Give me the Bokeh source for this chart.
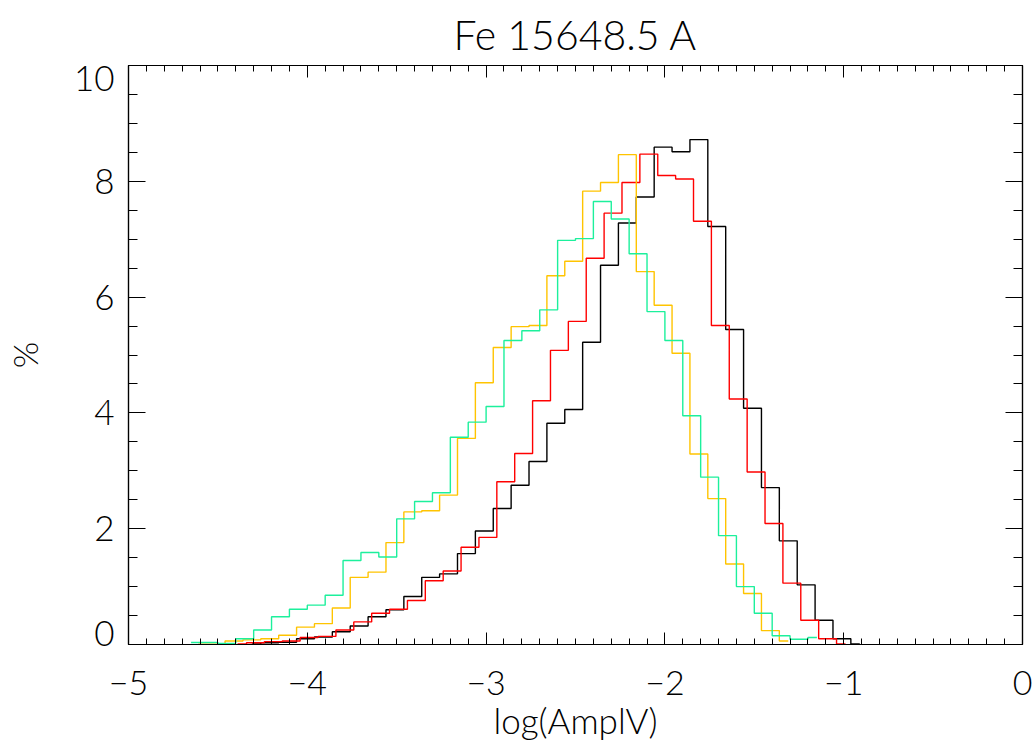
import numpy as np
from bokeh.plotting import figure
from bokeh.models import Range1d, LinearAxis, FixedTicker, ColumnDataSource
from bokeh.embed import file_html
from bokeh.resources import INLINE

# ---------------- data ----------------
title_text = "Fe 15648.5 A"
x_label = "log(AmplV)"
y_label = "%"
x_ticks = [-5, -4, -3, -2, -1, 0]
x_tick_labels = ["\u22125", "\u22124", "\u22123", "\u22122", "\u22121", "0"]
y_ticks = [0, 2, 4, 6, 8, 10]
y_tick_labels = ["0", "2", "4", "6", "8", "10"]

bin_width = 0.1

# green histogram (first bin centre and values, %)
green_start = -4.65
green_vals = [0.035, 0.035, 0.02, 0.10, 0.25, 0.48, 0.61, 0.68, 0.85, 1.45,
              1.59, 1.51, 2.17, 2.47, 2.62, 3.58, 3.84, 4.11, 5.25, 5.42,
              5.78, 6.98, 7.01, 7.65, 7.35, 6.75, 5.75, 5.25, 3.95, 2.89,
              1.88, 1.00, 0.54, 0.15, 0.09, 0.12]

# yellow histogram
yellow_start = -4.61
yellow_vals = [0.005, 0.005, 0.06, 0.08, 0.10, 0.16, 0.30, 0.36, 0.63, 1.16,
               1.25, 1.76, 2.29, 2.31, 2.58, 3.56, 4.52, 5.13, 5.49, 5.51,
               6.37, 6.62, 7.83, 7.98, 8.46, 6.44, 5.86, 5.03, 3.29, 2.52,
               1.39, 0.88, 0.24, 0.06]

# red histogram
red_start = -4.39
red_vals = [0.01, 0.03, 0.05, 0.06, 0.12, 0.14, 0.25, 0.39, 0.54, 0.61,
            0.76, 1.10, 1.27, 1.68, 1.85, 2.81, 3.30, 4.21, 5.08, 5.58,
            6.67, 7.45, 7.98, 8.47, 8.10, 8.04, 7.31, 5.51, 4.24, 2.98,
            2.09, 1.06, 0.42, 0.10, 0.01]

# black histogram
black_start = -4.31
black_vals = [0.01, 0.03, 0.04, 0.10, 0.13, 0.22, 0.32, 0.48, 0.60, 0.83,
              1.16, 1.22, 1.57, 1.96, 2.35, 2.75, 3.16, 3.82, 4.06, 5.22,
              6.55, 7.28, 7.73, 8.59, 8.51, 8.72, 7.22, 5.44, 4.08, 2.71,
              1.79, 1.03, 0.42, 0.10, 0.01]

series = [
    (black_start, black_vals, "#000000"),
    (red_start, red_vals, "#FF0000"),
    (yellow_start, yellow_vals, "#FFC400"),
    (green_start, green_vals, "#1CF09C"),
]

FONT = "Lato Light"
FRAME_W, FRAME_H = 894, 579
Y0, Y1 = 0, 10

# ---------------- figure ----------------
p = figure(frame_width=FRAME_W, frame_height=FRAME_H,
           x_range=Range1d(-5, 0), y_range=Range1d(Y0, Y1),
           x_axis_location=None, y_axis_location=None,
           output_backend="svg", toolbar_location=None,
           min_border_left=126, min_border_right=12,
           min_border_top=64, min_border_bottom=110)
p.xgrid.visible = False
p.ygrid.visible = False
p.outline_line_color = "black"
p.outline_line_width = 1.2
p.background_fill_color = "white"
p.border_fill_color = "white"

p.title.text = title_text
p.title.align = "center"
p.title.text_font = FONT
p.title.text_font_size = "41px"
p.title.text_font_style = "normal"
p.title.text_color = "black"
p.title.standoff = 14

x_minor = [round(v, 2) for v in np.arange(-5, 0.001, 0.1)]
y_minor = [round(v, 2) for v in np.arange(0, 10.001, 0.5)]


def tick_axis(ticks, minor, major_in, minor_in):
    ax = LinearAxis(ticker=FixedTicker(ticks=ticks, minor_ticks=minor))
    ax.major_tick_in = major_in
    ax.major_tick_out = 0
    ax.minor_tick_in = minor_in
    ax.minor_tick_out = 0
    ax.major_tick_line_color = "black"
    ax.minor_tick_line_color = "black"
    ax.major_tick_line_width = 1
    ax.minor_tick_line_width = 1
    ax.axis_line_color = "black"
    ax.axis_line_width = 1.2
    ax.major_label_overrides = {t: "" for t in ticks}
    ax.major_label_text_font_size = "0px"
    ax.major_label_standoff = 0
    return ax


# bottom axis: ticks + labels + title
bottom = tick_axis(x_ticks, x_minor, 12, 6)
bottom.major_label_overrides = dict(zip(x_ticks, x_tick_labels))
bottom.major_label_text_font = FONT
bottom.major_label_text_font_size = "34px"
bottom.major_label_text_color = "black"
bottom.major_label_standoff = 26
bottom.axis_label = x_label
bottom.axis_label_text_font = FONT
bottom.axis_label_text_font_style = "normal"
bottom.axis_label_text_font_size = "35px"
bottom.axis_label_text_color = "black"
bottom.axis_label_standoff = 1
p.add_layout(bottom, "below")

p.add_layout(tick_axis(x_ticks, x_minor, 12, 6), "above")
p.add_layout(tick_axis(y_ticks, y_minor, 17, 9), "left")
p.add_layout(tick_axis(y_ticks, y_minor, 17, 9), "right")

# left label axis: the end labels sit inside the frame height as in the original
px_per_unit = FRAME_H / (Y1 - Y0)
label_shift_px = {Y1: -13, Y0: 11}
label_pos = [round(t + label_shift_px.get(t, 0) / px_per_unit, 4) for t in y_ticks]
lab = LinearAxis(ticker=FixedTicker(ticks=label_pos, minor_ticks=[]))
lab.major_label_overrides = dict(zip(label_pos, y_tick_labels))
lab.major_tick_in = 0
lab.major_tick_out = 0
lab.minor_tick_in = 0
lab.minor_tick_out = 0
lab.axis_line_color = None
lab.major_tick_line_color = None
lab.minor_tick_line_color = None
lab.major_label_text_font = FONT
lab.major_label_text_font_size = "35px"
lab.major_label_text_color = "black"
lab.major_label_standoff = 14
lab.axis_label = y_label
lab.axis_label_text_font = FONT
lab.axis_label_text_font_style = "normal"
lab.axis_label_text_font_size = "34px"
lab.axis_label_text_color = "black"
lab.axis_label_standoff = 26
p.add_layout(lab, "left")

for start, vals, color in series:
    xs = np.round(start + bin_width * np.arange(len(vals)), 3)
    src = ColumnDataSource(dict(x=xs, y=vals))
    p.step("x", "y", source=src, mode="center", line_color=color, line_width=1.4)

open("out.html", "w").write(file_html(p, INLINE))
